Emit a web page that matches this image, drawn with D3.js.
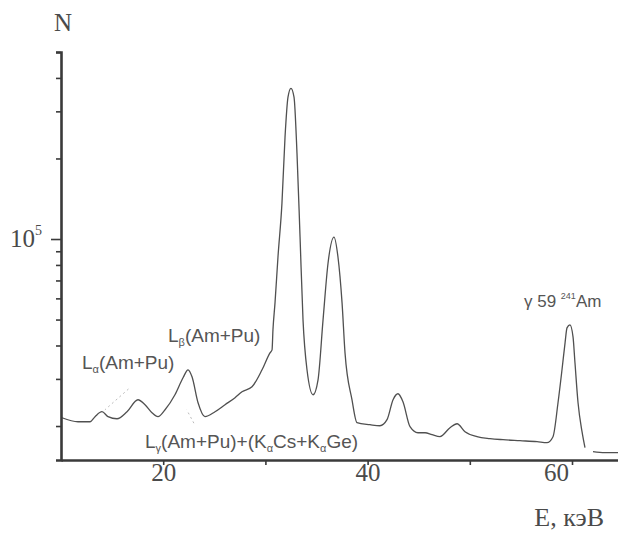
<!DOCTYPE html>
<html>
<head>
<meta charset="utf-8">
<script src="https://cdn.jsdelivr.net/npm/d3@7"></script>
<style>
  body{margin:0;background:#fff;overflow:hidden;}
  svg{display:block;}
  .serif{font-family:"Liberation Serif","DejaVu Serif",serif;fill:#4a4a4a;}
  .note{font-family:"Liberation Sans",Arial,sans-serif;fill:#555;}
</style>
</head>
<body>
<svg></svg>
<script>
// spectrum: energy (keV) and counts
var energy=[10.1,11.66,12.84,13.33,14.01,14.6,15.48,16.46,17.53,18.22,18.9,19.49,20.18,21.15,21.94,22.43,22.82,23.41,24.09,25.07,26.05,27.03,27.71,28.69,29.67,30.45,30.65,30.74,30.94,31.23,31.62,31.92,32.21,32.5,32.8,33.09,33.39,33.68,34.07,34.66,35.15,35.64,36.13,36.71,37.1,37.5,37.79,38.47,38.96,40.23,41.21,41.9,42.49,42.97,43.46,44.15,44.93,45.62,46.3,47.08,48.06,48.75,49.53,50.7,51.98,53.25,54.91,56.58,57.55,58.14,58.63,59.02,59.32,59.51,59.8,60.1,60.29,60.59,60.98,61.27,61.6,62.05,63.2,64.5];
var counts=[21480,20750,20750,21680,22620,21680,21290,22620,25080,24030,22430,21680,23010,26180,30290,32450,30550,24430,21680,22620,24030,25520,26870,28040,32450,37550,38530,45750,57700,85650,136200,240300,338800,365900,338800,209400,101700,49870,32450,26180,29780,49870,81380,101700,85650,57700,37550,25080,20580,20230,20050,21120,25080,26400,24650,19890,18880,18880,18560,18250,19720,20400,19050,18250,17940,17780,17630,17480,17330,18250,24430,32450,40930,46540,47760,43080,34460,24430,19050,16600,null,16040,15910,15910];

var xTicks=[20,30,40,50,60];
var xLabels=[20,40,60];
var yTicks=[2e4,3e4,4e4,5e4,6e4,7e4,8e4,9e4,1e5,2e5,3e5,4e5,5e5];

var svgWidth=618,svgHeight=533;
var margin={top:52,right:0,bottom:73,left:61};
var width=svgWidth-margin.left-margin.right;
var height=svgHeight-margin.top-margin.bottom;

var svg=d3.select('svg')
  .attr('width',svgWidth)
  .attr('height',svgHeight);

var g=svg.append('g')
  .attr('transform','translate('+margin.left+','+margin.top+')');

var x=d3.scaleLinear().domain([10,64.5]).range([0,width]);
var y=d3.scaleLog().domain([14930,5e5]).range([height,0]);

var data=energy.map(function(e,i){return {e:e,n:counts[i]};});

// leader lines from the labels
var leaders=[[16.6,2.75e4,14.3,2.3e4],[23.0,2.05e4,22.3,2.3e4]];
g.selectAll('.leader')
  .data(leaders)
  .enter().append('line')
  .attr('x1',function(d){return x(d[0])})
  .attr('y1',function(d){return y(d[1])})
  .attr('x2',function(d){return x(d[2])})
  .attr('y2',function(d){return y(d[3])})
  .attr('stroke','#bbb')
  .attr('stroke-width',1)
  .attr('stroke-dasharray','2,3');

var line=d3.line()
  .defined(function(d){return d.n!=null})
  .x(function(d){return x(d.e)})
  .y(function(d){return y(d.n)})
  .curve(d3.curveMonotoneX);

g.append('path')
  .datum(data)
  .attr('fill','none')
  .attr('stroke','#505050')
  .attr('stroke-width',1.3)
  .attr('stroke-linejoin','round')
  .attr('d',line);

// x axis
var xAxis=g.append('g')
  .attr('transform','translate(0,'+height+')')
  .call(d3.axisBottom(x).tickValues(xTicks).tickSize(5).tickSizeOuter(0)
    .tickFormat(function(d){return xLabels.indexOf(d)>=0?d:''}));
xAxis.select('.domain').attr('stroke','#3a3a3a').attr('stroke-width',2.6);
xAxis.selectAll('.tick line').attr('stroke','#3a3a3a').attr('stroke-width',1.6);
xAxis.selectAll('.tick text')
  .attr('class','serif')
  .attr('dy','0.5em')
  .attr('dx',function(d){return d==60?-16:0})
  .style('font-size','25px');

// y axis (log)
var yAxis=g.append('g')
  .call(d3.axisLeft(y).tickValues(yTicks).tickSizeOuter(0)
    .tickSize(5).tickFormat(''));
yAxis.select('.domain').attr('stroke','#3a3a3a').attr('stroke-width',2.6);
yAxis.selectAll('.tick line')
  .attr('stroke','#3a3a3a').attr('stroke-width',1.6)
  .attr('x2',function(d){return d==1e5?-10:-5});

var lab=g.append('text').attr('class','serif')
  .attr('x',-51).attr('y',y(1e5)+8)
  .style('font-size','25px');
lab.append('tspan').text('10');
lab.append('tspan').attr('dy',-12).style('font-size','14px').text('5');

svg.append('text').attr('class','serif')
  .attr('x',63).attr('y',31).attr('text-anchor','middle')
  .style('font-size','25px').text('N');

svg.append('text').attr('class','serif')
  .attr('x',604).attr('y',526).attr('text-anchor','end')
  .style('font-size','26px').text('E, кэВ');

// peak labels
function note(px,py,parts,size){
  var t=svg.append('text').attr('class','note')
    .attr('x',px).attr('y',py).style('font-size',size);
  parts.forEach(function(p){
    t.append('tspan')
      .attr('dy',p[1]||null)
      .style('font-size',p[2]||null)
      .text(p[0]);
  });
}
note(82,369,[['L'],['α',4,'11px'],['(Am+Pu)',-4]],'19px');
note(168,342,[['L'],['β',4,'11px'],['(Am+Pu)',-4]],'19px');
note(145,448,[['L'],['γ',4,'11px'],['(Am+Pu)+(K',-4],['α',4,'11px'],['Cs+K',-4],['α',4,'11px'],['Ge)',-4]],'19px');
note(524,307,[['γ 59 '],['241',-8,'9px'],['Am',8]],'17px');
</script>
</body>
</html>
